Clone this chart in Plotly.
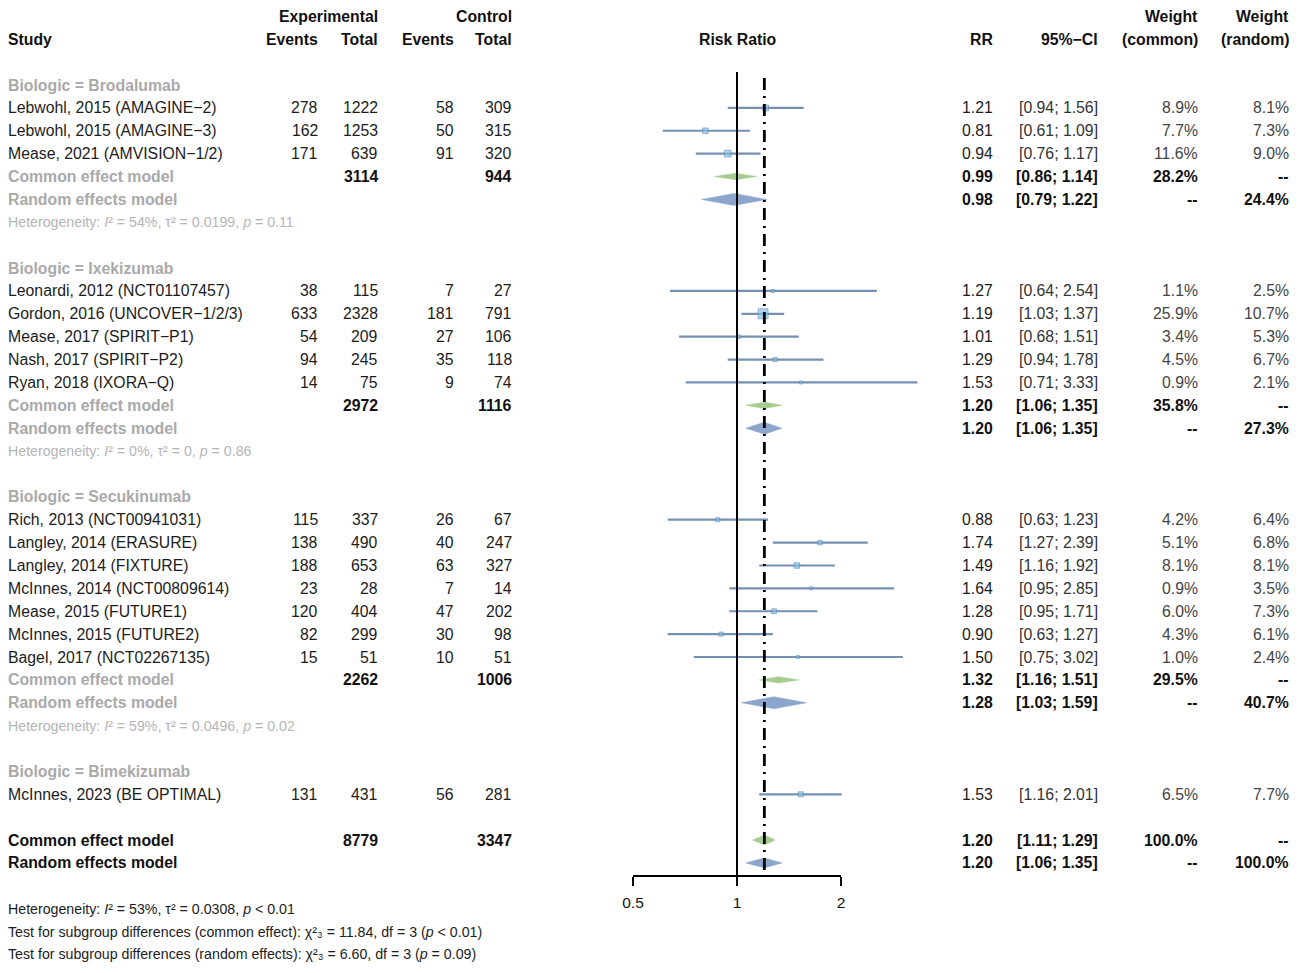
import math
import plotly.graph_objects as go

# ---------------- data ----------------
groups = ["Brodalumab", "Ixekizumab", "Secukinumab", "Bimekizumab"]
studies = [
    "Lebwohl, 2015 (AMAGINE−2)", "Lebwohl, 2015 (AMAGINE−3)", "Mease, 2021 (AMVISION−1/2)",
    "Leonardi, 2012 (NCT01107457)", "Gordon, 2016 (UNCOVER−1/2/3)", "Mease, 2017 (SPIRIT−P1)",
    "Nash, 2017 (SPIRIT−P2)", "Ryan, 2018 (IXORA−Q)",
    "Rich, 2013 (NCT00941031)", "Langley, 2014 (ERASURE)", "Langley, 2014 (FIXTURE)",
    "McInnes, 2014 (NCT00809614)", "Mease, 2015 (FUTURE1)", "McInnes, 2015 (FUTURE2)",
    "Bagel, 2017 (NCT02267135)",
    "McInnes, 2023 (BE OPTIMAL)",
]
study_group = [0, 0, 0, 1, 1, 1, 1, 1, 2, 2, 2, 2, 2, 2, 2, 3]
exp_events = [278, 162, 171, 38, 633, 54, 94, 14, 115, 138, 188, 23, 120, 82, 15, 131]
exp_total = [1222, 1253, 639, 115, 2328, 209, 245, 75, 337, 490, 653, 28, 404, 299, 51, 431]
ctrl_events = [58, 50, 91, 7, 181, 27, 35, 9, 26, 40, 63, 7, 47, 30, 10, 56]
ctrl_total = [309, 315, 320, 27, 791, 106, 118, 74, 67, 247, 327, 14, 202, 98, 51, 281]
rr = [1.21, 0.81, 0.94, 1.27, 1.19, 1.01, 1.29, 1.53, 0.88, 1.74, 1.49, 1.64, 1.28, 0.90, 1.50, 1.53]
ci_lo = [0.94, 0.61, 0.76, 0.64, 1.03, 0.68, 0.94, 0.71, 0.63, 1.27, 1.16, 0.95, 0.95, 0.63, 0.75, 1.16]
ci_hi = [1.56, 1.09, 1.17, 2.54, 1.37, 1.51, 1.78, 3.33, 1.23, 2.39, 1.92, 2.85, 1.71, 1.27, 3.02, 2.01]
w_common = [8.9, 7.7, 11.6, 1.1, 25.9, 3.4, 4.5, 0.9, 4.2, 5.1, 8.1, 0.9, 6.0, 4.3, 1.0, 6.5]
w_random = [8.1, 7.3, 9.0, 2.5, 10.7, 5.3, 6.7, 2.1, 6.4, 6.8, 8.1, 3.5, 7.3, 6.1, 2.4, 7.7]

# subgroup summaries (only for groups with more than one study)
sub_exp_total = [3114, 2972, 2262, None]
sub_ctrl_total = [944, 1116, 1006, None]
sub_ce_rr = [0.99, 1.20, 1.32, None]
sub_ce_lo = [0.86, 1.06, 1.16, None]
sub_ce_hi = [1.14, 1.35, 1.51, None]
sub_ce_w = [28.2, 35.8, 29.5, None]
sub_re_rr = [0.98, 1.20, 1.28, None]
sub_re_lo = [0.79, 1.06, 1.03, None]
sub_re_hi = [1.22, 1.35, 1.59, None]
sub_re_w = [24.4, 27.3, 40.7, None]
sub_het = [
    "Heterogeneity: <i>I</i>² = 54%, τ² = 0.0199, <i>p</i> = 0.11",
    "Heterogeneity: <i>I</i>² = 0%, τ² = 0, <i>p</i> = 0.86",
    "Heterogeneity: <i>I</i>² = 59%, τ² = 0.0496, <i>p</i> = 0.02",
    None,
]

# overall
tot_exp_total = 8779
tot_ctrl_total = 3347
tot_ce = (1.20, 1.11, 1.29)
tot_re = (1.20, 1.06, 1.35)
bottom_notes = [
    "Heterogeneity: <i>I</i>² = 53%, τ² = 0.0308, <i>p</i> < 0.01",
    "Test for subgroup differences (common effect): χ²₃ = 11.84, df = 3 (<i>p</i> < 0.01)",
    "Test for subgroup differences (random effects): χ²₃ = 6.60, df = 3 (<i>p</i> = 0.09)",
]
tick_vals = [0.5, 1, 2]
tick_text = ["0.5", "1", "2"]

# ---------------- styling / layout constants ----------------
OFF = 8                      # default page margin of the html body
W, H = 1299 - OFF, 973 - OFF  # figure size so that page content fits the window
FONT = "Liberation Sans, Arial, Helvetica, sans-serif"
FS = 15.8
FS_SMALL = 14.2
ROW0_PX = 85.0
PITCH = 22.88
AXIS_PX = 875.0
C_TEXT = "#1c1c1c"
C_GRAY = "#a9a9a9"
C_HET = "#b5b5b5"
C_CI = "#7590b2"
C_SQ = "#7fc4ea"
C_GREEN = "#a8cb90"
C_BLUE = "#8ba5cd"

COL_STUDY = 8
COL_EV_E = 318
COL_TOT_E = 378
COL_EV_C = 454
COL_TOT_C = 512
COL_RR = 993
COL_CI = 1098
COL_WC = 1198
COL_WR = 1289
COL_PLOT_MID = 738

y_bottom = (AXIS_PX - ROW0_PX) / PITCH
y_top = (OFF - ROW0_PX) / PITCH


def px_x(px):
    return (px - OFF) / W


def px_y(px):
    return 1 - (px - OFF) / H


annotations = []


def txt(px, row, s, anchor="right", color=C_TEXT, size=FS, bold=False, paper_y=False):
    if bold:
        s = "<b>" + s + "</b>"
    if paper_y:
        yv, yr = px_y(ROW0_PX + row * PITCH), "paper"
    else:
        yv, yr = row, "y"
    annotations.append(dict(
        x=px_x(px), xref="paper", y=yv, yref=yr, text=s, showarrow=False,
        xanchor=anchor, yanchor="middle", align=anchor,
        font=dict(family=FONT, size=size, color=color),
        borderpad=0, borderwidth=0,
    ))


def f2(v):
    return "{:.2f}".format(v)


def fci(lo, hi):
    return "[{:.2f}; {:.2f}]".format(lo, hi)


def fw(v):
    return "{:.1f}%".format(v)


HB = "#111111"
# headers
txt(COL_TOT_E, -3, "Experimental", bold=True, color=HB)
txt(COL_TOT_C, -3, "Control", bold=True, color=HB)
txt(COL_WC, -3, "Weight", bold=True, color=HB)
txt(COL_WR, -3, "Weight", bold=True, color=HB)
txt(COL_STUDY, -2, "Study", anchor="left", bold=True, color=HB)
txt(COL_EV_E, -2, "Events", bold=True, color=HB)
txt(COL_TOT_E, -2, "Total", bold=True, color=HB)
txt(COL_EV_C, -2, "Events", bold=True, color=HB)
txt(COL_TOT_C, -2, "Total", bold=True, color=HB)
txt(COL_PLOT_MID, -2, "Risk Ratio", anchor="center", bold=True, color=HB)
txt(COL_RR, -2, "RR", bold=True, color=HB)
txt(COL_CI, -2, "95%−CI", bold=True, color=HB)
txt(COL_WC, -2, "(common)", bold=True, color=HB)
txt(COL_WR, -2, "(random)", bold=True, color=HB)

# rows
ci_x, ci_y = [], []
sq_x, sq_y, sq_s = [], [], []
dg_x, dg_y = [], []   # green (common) diamonds
db_x, db_y = [], []   # blue (random) diamonds


def diamond(xs, ys, est, lo, hi, row, half_px):
    h = half_px / PITCH
    xs.extend([lo, est, hi, est, lo, None])
    ys.extend([row, row - h, row, row + h, row, None])


row = 0
for g, gname in enumerate(groups):
    txt(COL_STUDY, row, "Biologic = " + gname, anchor="left", color=C_GRAY, bold=True)
    row += 1
    idx = [i for i, sg in enumerate(study_group) if sg == g]
    for i in idx:
        txt(COL_STUDY, row, studies[i], anchor="left")
        txt(COL_EV_E, row, str(exp_events[i]))
        txt(COL_TOT_E, row, str(exp_total[i]))
        txt(COL_EV_C, row, str(ctrl_events[i]))
        txt(COL_TOT_C, row, str(ctrl_total[i]))
        txt(COL_RR, row, f2(rr[i]))
        txt(COL_CI, row, fci(ci_lo[i], ci_hi[i]), color="#333")
        txt(COL_WC, row, fw(w_common[i]), color="#444")
        txt(COL_WR, row, fw(w_random[i]), color="#444")
        ci_x.extend([ci_lo[i], ci_hi[i], None])
        ci_y.extend([row, row, None])
        sq_x.append(rr[i])
        sq_y.append(row)
        sq_s.append(max(3.0, 1.95 * math.sqrt(w_common[i])))
        row += 1
    if len(idx) > 1:
        txt(COL_STUDY, row, "Common effect model", anchor="left", color=C_GRAY, bold=True)
        txt(COL_TOT_E, row, str(sub_exp_total[g]), bold=True, color=HB)
        txt(COL_TOT_C, row, str(sub_ctrl_total[g]), bold=True, color=HB)
        txt(COL_RR, row, f2(sub_ce_rr[g]), bold=True, color=HB)
        txt(COL_CI, row, fci(sub_ce_lo[g], sub_ce_hi[g]), bold=True, color=HB)
        txt(COL_WC, row, fw(sub_ce_w[g]), bold=True, color=HB)
        txt(COL_WR, row, "--", bold=True, color=HB)
        diamond(dg_x, dg_y, sub_ce_rr[g], sub_ce_lo[g], sub_ce_hi[g], row, 3.2)
        row += 1
        txt(COL_STUDY, row, "Random effects model", anchor="left", color=C_GRAY, bold=True)
        txt(COL_RR, row, f2(sub_re_rr[g]), bold=True, color=HB)
        txt(COL_CI, row, fci(sub_re_lo[g], sub_re_hi[g]), bold=True, color=HB)
        txt(COL_WC, row, "--", bold=True, color=HB)
        txt(COL_WR, row, fw(sub_re_w[g]), bold=True, color=HB)
        diamond(db_x, db_y, sub_re_rr[g], sub_re_lo[g], sub_re_hi[g], row, 6.0)
        row += 1
        txt(COL_STUDY, row, sub_het[g], anchor="left", color=C_HET, size=FS_SMALL)
        row += 1
    row += 1  # blank line

# overall
txt(COL_STUDY, row, "Common effect model", anchor="left", bold=True, color=HB)
txt(COL_TOT_E, row, str(tot_exp_total), bold=True, color=HB)
txt(COL_TOT_C, row, str(tot_ctrl_total), bold=True, color=HB)
txt(COL_RR, row, f2(tot_ce[0]), bold=True, color=HB)
txt(COL_CI, row, fci(tot_ce[1], tot_ce[2]), bold=True, color=HB)
txt(COL_WC, row, fw(100.0), bold=True, color=HB)
txt(COL_WR, row, "--", bold=True, color=HB)
diamond(dg_x, dg_y, tot_ce[0], tot_ce[1], tot_ce[2], row, 5.0)
row += 1
txt(COL_STUDY, row, "Random effects model", anchor="left", bold=True, color=HB)
txt(COL_RR, row, f2(tot_re[0]), bold=True, color=HB)
txt(COL_CI, row, fci(tot_re[1], tot_re[2]), bold=True, color=HB)
txt(COL_WC, row, "--", bold=True, color=HB)
txt(COL_WR, row, fw(100.0), bold=True, color=HB)
diamond(db_x, db_y, tot_re[0], tot_re[1], tot_re[2], row, 5.0)
row += 2
for note in bottom_notes:
    txt(COL_STUDY, row, note, anchor="left", size=FS_SMALL, paper_y=True)
    row += 1

# ---------------- figure ----------------
fig = go.Figure()
fig.add_trace(go.Scatter(x=ci_x, y=ci_y, mode="lines", line=dict(color=C_CI, width=2.2),
                         hoverinfo="skip", showlegend=False, connectgaps=False))
fig.add_trace(go.Scatter(x=dg_x, y=dg_y, mode="lines", fill="toself", fillcolor=C_GREEN,
                         line=dict(color=C_GREEN, width=0.5), hoverinfo="skip", showlegend=False))
fig.add_trace(go.Scatter(x=db_x, y=db_y, mode="lines", fill="toself", fillcolor=C_BLUE,
                         line=dict(color=C_BLUE, width=0.5), hoverinfo="skip", showlegend=False))
fig.add_trace(go.Scatter(x=sq_x, y=sq_y, mode="markers",
                         marker=dict(symbol="square", size=sq_s, color=C_SQ,
                                     line=dict(color="#6a8ab0", width=1)),
                         hoverinfo="skip", showlegend=False))
# invisible point so that the tick-axis subplot is created
fig.add_trace(go.Scatter(x=[1], y=[1], xaxis="x2", yaxis="y", mode="markers",
                         marker=dict(opacity=0), hoverinfo="skip", showlegend=False))

shapes = [
    dict(type="line", xref="x", yref="y", x0=1, x1=1, y0=(72 - ROW0_PX) / PITCH, y1=y_bottom,
         line=dict(color="black", width=2)),
    dict(type="line", xref="x", yref="y", x0=tot_re[0], x1=tot_re[0], y0=(78 - ROW0_PX) / PITCH,
         y1=y_bottom, line=dict(color="black", width=2.8, dash="12px,6px,2px,6px")),
]

px_l, px_r = 600.0, 945.0
rng_l = (px_l - 737.0) / 345.5
rng_r = (px_r - 737.0) / 345.5

fig.update_layout(
    width=W, height=H,
    margin=dict(l=0, r=0, t=0, b=0, autoexpand=False),
    paper_bgcolor="white", plot_bgcolor="rgba(0,0,0,0)",
    xaxis=dict(type="log", domain=[px_x(px_l), px_x(px_r)], range=[rng_l, rng_r],
               visible=False, fixedrange=True),
    xaxis2=dict(type="log", domain=[px_x(633.0), px_x(841.0)],
                range=[math.log10(0.5), math.log10(2)], anchor="y",
                showline=True, linecolor="black", linewidth=2,
                ticks="outside", ticklen=9, tickwidth=2, tickcolor="black",
                tickvals=tick_vals, ticktext=tick_text,
                tickfont=dict(family=FONT, size=15.5, color="#111"),
                ticklabelstandoff=3,
                showgrid=False, zeroline=False, fixedrange=True),
    yaxis=dict(domain=[px_y(AXIS_PX), 1], range=[y_bottom, y_top],
               visible=False, fixedrange=True),
    annotations=annotations,
    shapes=shapes,
    showlegend=False,
)

fig.write_html("out.html")
